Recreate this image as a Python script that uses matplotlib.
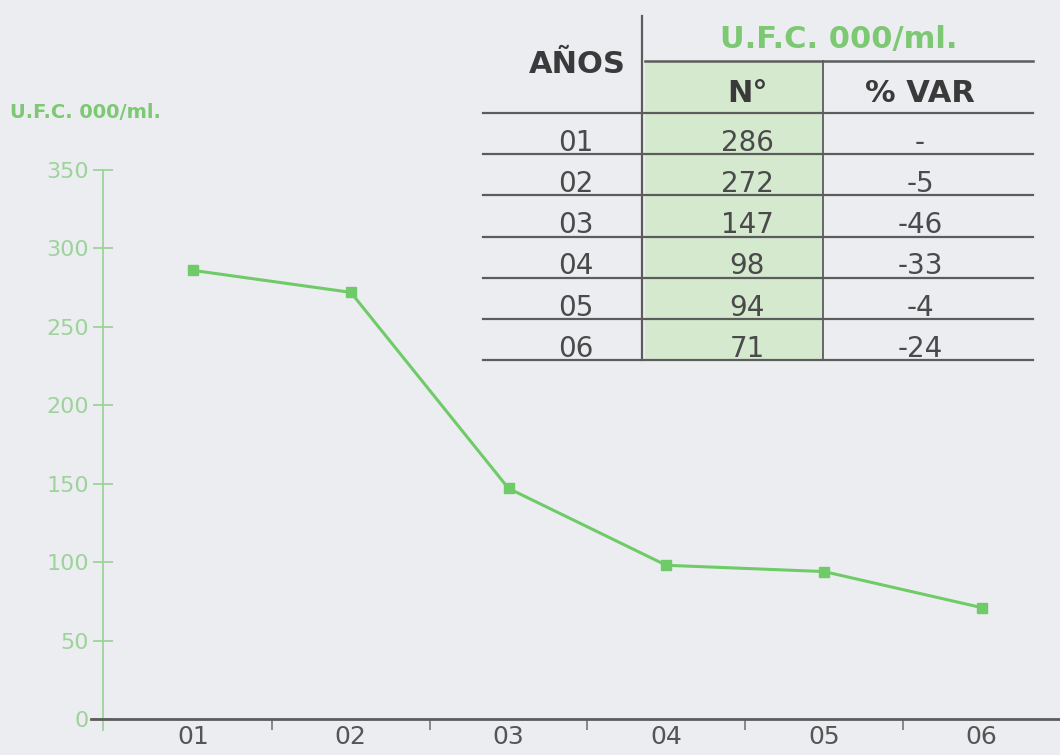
import matplotlib.pyplot as plt
import numpy as np

years = ["01", "02", "03", "04", "05", "06"]
ufc = [286, 272, 147, 98, 94, 71]
var_pct = ["-", "-5", "-46", "-33", "-4", "-24"]
y_ticks = [0, 50, 100, 150, 200, 250, 300, 350]

paper = "#ecedf1"
green_line = "#6fcb68"
green_text = "#7cc873"
green_tick = "#9dd39a"
green_fill = "#d5e9cf"
dark = "#4a4a4a"
rule = "#5c5c5c"

fig = plt.figure(figsize=(10.6, 7.55), dpi=100)
fig.patch.set_facecolor(paper)

# main line chart
W, H = 1060, 755
ax = fig.add_axes([91 / W, 36 / H, (W - 91) / W, (719 - 170) / H])
ax.patch.set_alpha(0)
x = np.arange(len(years))
ax.set_xlim(-0.647, 5.496)
ax.set_ylim(0, 350)

for s in ["top", "right"]:
    ax.spines[s].set_visible(False)
ax.spines["left"].set_position(("data", -0.572))
ax.spines["left"].set_color(green_tick)
ax.spines["left"].set_linewidth(1.3)
ax.spines["left"].set_bounds(-7, 350)
ax.spines["bottom"].set_color(rule)
ax.spines["bottom"].set_linewidth(2)

ax.set_yticks(y_ticks)
ax.tick_params(axis="y", direction="inout", length=14, width=1.3,
               color=green_tick, labelcolor=green_tick, labelsize=16, pad=3)

ax.set_xticks(x)
ax.set_xticklabels(years)
ax.tick_params(axis="x", which="major", length=0, labelsize=18,
               labelcolor="#555555", pad=4)
ax.set_xticks(x[:-1] + 0.5, minor=True)
ax.tick_params(axis="x", which="minor", direction="out", length=8,
               width=1.2, color="#777777")

ax.plot(x, ufc, color=green_line, lw=2.2, marker="s", ms=6.5,
        clip_on=False, zorder=3)

fig.text(10 / W, 1 - 113 / H, "U.F.C. 000/ml.", color=green_text,
         fontsize=14, fontweight="bold", va="center", ha="left")

# data table drawn over the top-right corner
tab = fig.add_axes([0, 0, 1, 1])
tab.set_xlim(0, W)
tab.set_ylim(H, 0)
tab.axis("off")
tab.patch.set_alpha(0)

row_h = 41.2
top_rule = 113
n = len(years)
bottom = top_rule + row_h * n

tab.fill_between([645, 823], 61, bottom, color=green_fill, lw=0, zorder=1)
tab.plot([642, 642], [16, bottom], color=rule, lw=1.6, zorder=2)
tab.plot([823, 823], [61, bottom], color=rule, lw=1.3, zorder=2)
tab.plot([645, 1033], [61, 61], color=rule, lw=1.8, zorder=2)
for k in range(n + 1):
    y = top_rule + row_h * k
    tab.plot([483, 1033], [y, y], color=rule, lw=1.6, zorder=2)

tab.text(577, 73, "AÑOS", ha="center", va="baseline", fontsize=22,
         fontweight="bold", color="#3a3a3a", zorder=3)
tab.text(839, 48, "U.F.C. 000/ml.", ha="center", va="baseline", fontsize=22,
         fontweight="bold", color=green_text, zorder=3)
tab.text(747, 102, "N°", ha="center", va="baseline", fontsize=22,
         fontweight="bold", color="#3a3a3a", zorder=3)
tab.text(920, 102, "% VAR", ha="center", va="baseline", fontsize=22,
         fontweight="bold", color="#3a3a3a", zorder=3)

for k in range(n):
    base = top_rule + row_h * (k + 1) - 3.5
    tab.text(576, base, years[k], ha="center", va="baseline", fontsize=20,
             color=dark, zorder=3)
    tab.text(747, base, str(ufc[k]), ha="center", va="baseline", fontsize=20,
             color=dark, zorder=3)
    tab.text(920, base, var_pct[k], ha="center", va="baseline", fontsize=20,
             color=dark, zorder=3)

fig.savefig("out.png", dpi=100, facecolor=fig.get_facecolor())
